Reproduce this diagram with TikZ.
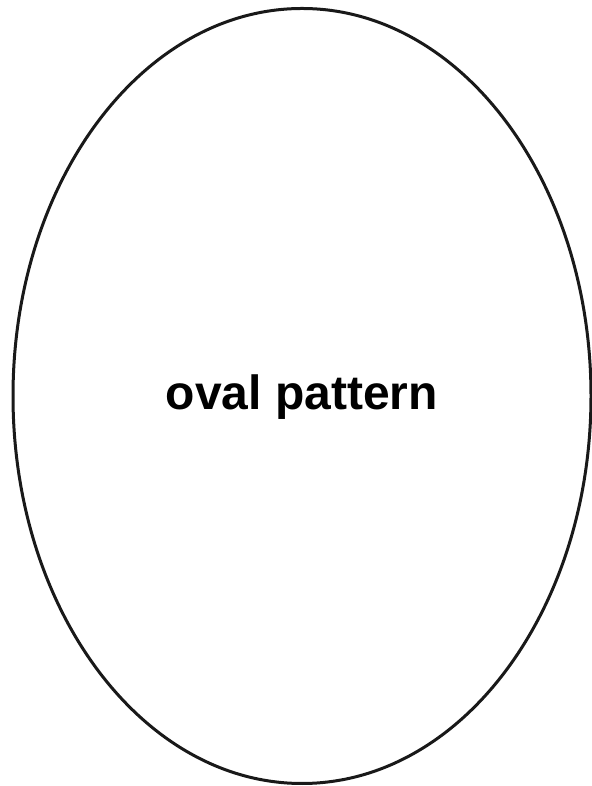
\documentclass[tikz,border=0pt]{standalone}
\usepackage{fontspec}
\setmainfont{Liberation Sans}
\begin{document}
\begin{tikzpicture}[x=1pt,y=1pt,
  ovalshape/.style={draw=black!90, line width=3pt},
  lbl/.style={font=\bfseries\fontsize{48}{56}\selectfont, anchor=base, inner sep=0pt}]
\useasboundingbox (0,0) rectangle (591,786);
\draw[ovalshape] (302,390) ellipse [x radius=289, y radius=387.5];
\node[lbl] (t) at (302,376) {oval pattern};
\end{tikzpicture}
\end{document}
